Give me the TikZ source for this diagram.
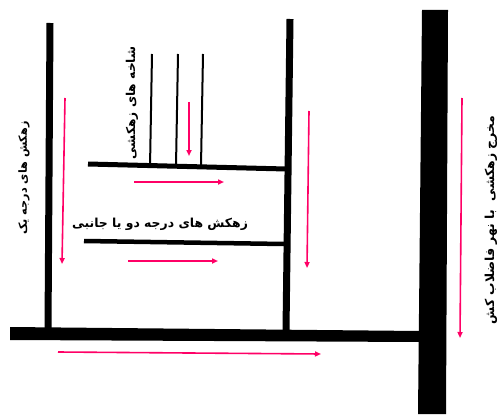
\documentclass[tikz,border=0pt]{standalone}
\usepackage{fontspec}
\usetikzlibrary{arrows.meta}
\TeXXeTstate=1
\newfontfamily\arabicfont[Script=Arabic]{DejaVu Sans}
\definecolor{flowpink}{RGB}{255,0,102}
\tikzset{
  pipe/.style={line width=#1, black},
  flow/.style={flowpink, line width=1.6pt, -{Triangle[length=6pt,width=5pt]}},
  label/.style={font=\arabicfont\bfseries\fontsize{#1}{15}\selectfont, inner sep=0pt},
  label/.default=12.4
}
\begin{document}
\begin{tikzpicture}[x=1pt,y=-1pt]
\useasboundingbox (0,0) rectangle (502,414);
% drains
\draw[pipe=7pt] (50,23) -- (48,330);
\draw[pipe=7pt] (290,19) -- (286,330);
\fill (422,10) -- (448,10) -- (446,414) -- (418,414) -- cycle;
\fill (10,327) -- (420,331) -- (420,342) -- (10,340) -- cycle;
\draw[pipe=5pt] (88,164) -- (286,169);
\draw[pipe=4.5pt] (84,241) -- (284,244);
\draw[pipe=2pt] (152,54) -- (150,167);
\draw[pipe=2pt] (178,54) -- (176,166);
\draw[pipe=2pt] (203,54) -- (201,166);
% flow arrows
\coordinate (a1s) at (65,98);  \coordinate (a1e) at (62,264);
\coordinate (a2s) at (189,102); \coordinate (a2e) at (189,156);
\coordinate (a3s) at (309,111); \coordinate (a3e) at (307,268);
\coordinate (a4s) at (462,98);  \coordinate (a4e) at (460,338);
\coordinate (a5s) at (134,182); \coordinate (a5e) at (224,182);
\coordinate (a6s) at (128,261); \coordinate (a6e) at (218,261);
\coordinate (a7s) at (58,352);  \coordinate (a7e) at (321,354);
\draw[flow] (a1s) -- (a1e);
\draw[flow] (a2s) -- (a2e);
\draw[flow] (a3s) -- (a3e);
\draw[flow] (a4s) -- (a4e);
\draw[flow] (a5s) -- (a5e);
\draw[flow] (a6s) -- (a6e);
\draw[flow] (a7s) -- (a7e);
% labels
\node[label=11.2, rotate=90] (t1) at (24,178) {\beginR زهکش های درجه یک\endR};
\node[label=12.2, rotate=90] (t2) at (132,103) {\beginR شاخه های زهکشی\endR};
\node[label] (t3) at (160,224) {\beginR زهکش های درجه دو یا جانبی\endR};
\node[label, rotate=90] (t4) at (491,220) {\beginR مخرج زهکشی\ \ با نهر فاضلاب کش\endR};
\end{tikzpicture}
\end{document}
